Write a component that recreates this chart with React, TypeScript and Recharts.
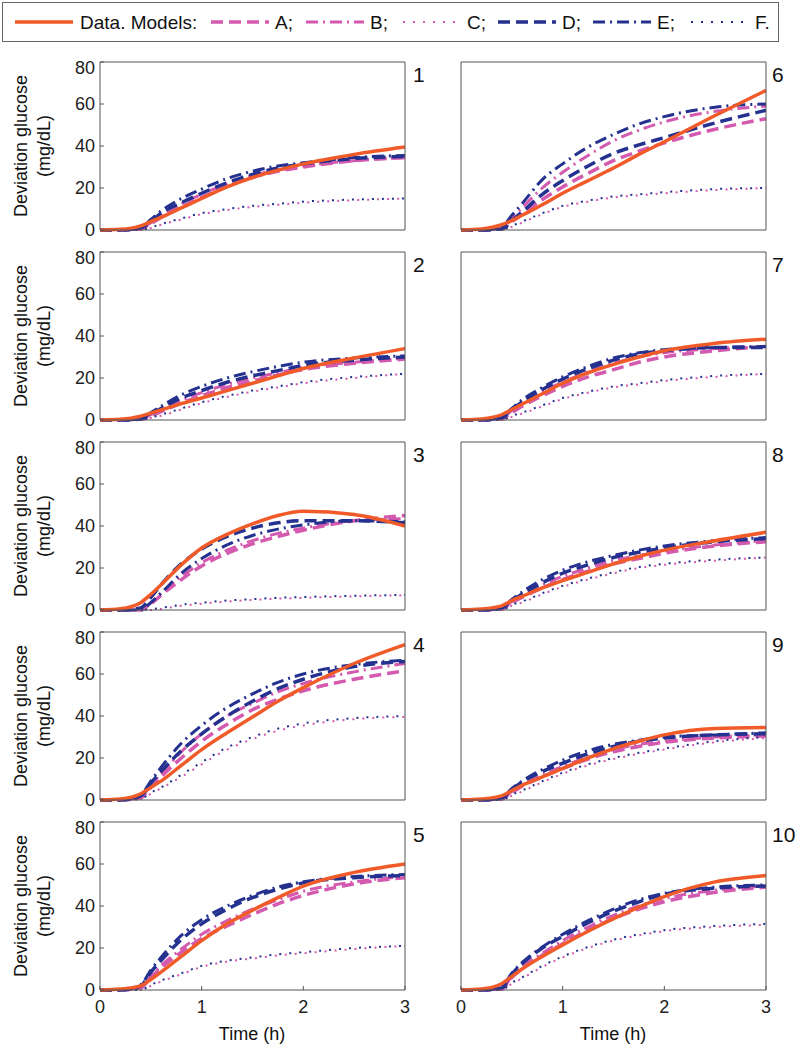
import { LineChart, Line, XAxis, YAxis } from 'recharts';

// time grid (h) shared by every panel
const TIME = [0, 0.2, 0.4, 0.5, 0.6, 0.8, 1, 1.25, 1.5, 1.75, 2, 2.5, 3];
const X_TICKS = [0, 1, 2, 3];
const Y_TICKS = [0, 20, 40, 60, 80];
const PANEL_NAMES = ['1', '2', '3', '4', '5', '6', '7', '8', '9', '10'];

// one row per panel (1..10), values in mg/dL
const DATA = [
  [0, 0.3, 2, 4, 6, 10.5, 15, 20.5, 25, 28.5, 31.5, 36, 39.5],
  [0, 0.3, 1.8, 3.3, 4.8, 7.8, 10.5, 14, 17.5, 21, 24.5, 29.5, 34],
  [0, 0.6, 3.5, 7.5, 12, 21.5, 29.5, 36, 41, 45, 47, 45.5, 40],
  [0, 0.5, 3, 6, 9, 16.5, 24, 32, 39.5, 47, 53.5, 65, 74],
  [0, 0.5, 2, 5, 8.5, 16, 23.5, 31.5, 38, 44, 49.5, 56, 60],
  [0, 0.5, 2.5, 4.5, 7, 12, 17.5, 23.5, 29.5, 36, 42, 54.5, 66.5],
  [0, 0.5, 2.5, 5, 7.5, 12.5, 17.5, 22.5, 26.5, 30, 33, 36.5, 38.5],
  [0, 0.5, 2, 4.5, 6.5, 10.5, 14, 18, 22, 25.5, 28.5, 33, 37],
  [0, 0.5, 2, 4.5, 7, 11, 15, 20, 24.5, 28, 31, 34, 34.5],
  [0, 0.5, 3, 6.5, 10, 16, 21.5, 28, 34, 39.5, 44.5, 51.5, 54.5],
];

const MODEL_A = [
  [0, 0, 0.5, 3, 6, 11, 15.5, 21, 25, 28, 30, 33, 34.5],
  [0, 0, 0.3, 2, 4, 8, 11.5, 15.5, 18.5, 21.5, 24, 27, 29],
  [0, 0, 0, 3, 7, 14.5, 21, 27, 31.5, 35, 38, 42.5, 45],
  [0, 0, 1, 6, 11, 20, 28, 36, 43, 48, 52, 57.5, 61.5],
  [0, 0, 1, 6, 10.5, 18, 24.5, 30.5, 36, 41, 45, 50.5, 53.5],
  [0, 0, 0.5, 4, 7.5, 14.5, 20.5, 27, 33, 37.5, 41.5, 48, 53],
  [0, 0, 0.5, 3.5, 6.5, 11.5, 16, 20.5, 24, 27.5, 30, 33, 35],
  [0, 0, 0.5, 3.5, 6, 10.5, 14.5, 18.5, 22, 24.5, 27, 30.5, 32.5],
  [0, 0, 0.5, 3.5, 6.5, 11, 15, 19.5, 23, 25.5, 27.5, 29.5, 30.5],
  [0, 0, 0.5, 6, 10, 16.5, 22, 28.5, 34, 38.5, 42, 46.5, 49],
];

const MODEL_B = [
  [0, 0, 0.5, 3.5, 7, 12.5, 17, 22, 26, 28.5, 30.5, 33, 34.5],
  [0, 0, 0.4, 2.5, 5, 9.5, 13, 17, 20, 22.5, 25, 27.5, 29.5],
  [0, 0, 0, 3.5, 8, 16, 22.5, 28.5, 33, 36.5, 39, 42.5, 43.5],
  [0, 0, 1.5, 7, 12.5, 23, 31.5, 40, 46, 51.5, 55.5, 61, 65],
  [0, 0, 1, 6.5, 11.5, 19.5, 26.5, 33, 38.5, 43, 47, 51.5, 54],
  [0, 0, 1, 5.5, 10.5, 20, 27.5, 35.5, 42.5, 47.5, 51.5, 56.5, 59],
  [0, 0, 1, 4.5, 8, 13.5, 18, 23, 27, 30, 32, 34, 35],
  [0, 0, 0.5, 4, 7, 12, 16, 20, 23.5, 26, 28, 31, 33],
  [0, 0, 0.5, 4, 7, 12, 16, 20.5, 24, 26.5, 28, 30, 31],
  [0, 0, 0.5, 6.5, 11, 17.5, 23.5, 30, 35.5, 40, 43.5, 47.5, 49.5],
];

const MODEL_C = [
  [0, 0, 0, 1, 2.5, 5, 7.5, 9.5, 11, 12, 13, 14.2, 15],
  [0, 0, 0, 1, 2, 5, 8, 11, 13.5, 15.5, 17.5, 20, 22],
  [0, 0, 0, 0, 0.5, 2, 3, 4, 4.8, 5.4, 5.8, 6.5, 7],
  [0, 0, 0.5, 3, 5.5, 11, 17, 24, 29, 33, 35.5, 38.5, 39.5],
  [0, 0, 0, 2, 4, 7.5, 11, 13.5, 15, 16.5, 17.5, 19.5, 21],
  [0, 0, 0, 1.5, 3.5, 7.5, 11, 13.5, 15.5, 16.5, 17.5, 19, 20],
  [0, 0, 0, 1.5, 3, 6.5, 10, 13, 15.5, 17, 18.5, 20.5, 22],
  [0, 0, 0, 2, 3.5, 7.5, 11, 14.5, 17.5, 20, 21.5, 23.5, 25],
  [0, 0, 0, 2, 4, 8.5, 12.5, 16.5, 19.5, 22, 24, 27.5, 29.5],
  [0, 0, 0, 3, 5.5, 11, 15.5, 20, 23.5, 26, 28, 30, 31],
];

const MODEL_D = [
  [0, 0, 1, 4, 8, 13, 17.5, 22.5, 26.5, 29.5, 31.5, 34, 35],
  [0, 0, 0.5, 3, 5.5, 10.5, 14, 18, 21, 23.5, 26, 28.5, 30],
  [0, 0, 1, 6, 12, 22, 29, 35, 39, 41.5, 42.5, 42.5, 41.5],
  [0, 0, 2, 8, 13.5, 23.5, 31.5, 40, 47, 53, 57.5, 63.5, 66],
  [0, 0, 2, 8.5, 14, 24, 31.5, 38.5, 44, 48, 51, 53.5, 54.5],
  [0, 0, 0.5, 4.5, 8.5, 17, 23.5, 30.5, 36.5, 40.5, 44, 51, 57],
  [0, 0, 1, 5, 8.5, 14.5, 19.5, 24.5, 28.5, 31.5, 33, 34.5, 34.5],
  [0, 0, 1, 4.5, 7.5, 13, 17.5, 21.5, 25, 27.5, 29.5, 32.5, 34],
  [0, 0, 1, 5, 8.5, 13.5, 17.5, 22, 25.5, 28, 29.5, 31, 31.5],
  [0, 0, 1, 7.5, 12.5, 20, 25.5, 32, 37.5, 42, 45.5, 48.5, 49.5],
];

const MODEL_E = [
  [0, 0, 1, 5, 9, 15, 19.5, 24.5, 28, 30.5, 32, 34.5, 35.5],
  [0, 0, 0.5, 3.5, 6.5, 12, 16, 20, 23, 25.5, 27.5, 29.5, 30.5],
  [0, 0, 0, 3.5, 8, 17.5, 24.5, 31, 35.5, 38.5, 40.5, 42.5, 42],
  [0, 0, 2.5, 9, 15.5, 27, 35.5, 44, 50.5, 56, 60, 64.5, 66.5],
  [0, 0, 2.5, 9.5, 15.5, 26, 33.5, 40, 45, 49, 51.5, 54, 55],
  [0, 0, 1.5, 7, 12.5, 24, 31.5, 39.5, 45.5, 50.5, 54, 58.5, 60],
  [0, 0, 1.5, 5.5, 9.5, 15.5, 20.5, 25.5, 29.5, 32, 33.5, 34.5, 35],
  [0, 0, 1, 5, 8.5, 14.5, 19, 23, 26, 28.5, 30.5, 33, 34.5],
  [0, 0, 1, 5.5, 9, 14.5, 19, 23.5, 26.5, 28.5, 30, 31, 32],
  [0, 0, 1.5, 8, 13, 20.5, 26.5, 33, 38.5, 43, 46, 49, 50],
];

const MODEL_F = [
  [0, 0, 0, 1.2, 2.8, 5.5, 8, 10, 11.5, 12.5, 13.5, 14.5, 15],
  [0, 0, 0, 1.2, 2.5, 5.5, 8.5, 11.5, 14, 16, 18, 20.5, 22],
  [0, 0, 0, 0.3, 1, 2.5, 3.5, 4.5, 5.2, 5.8, 6.2, 6.8, 7.2],
  [0, 0, 0.5, 3.5, 6, 12, 18, 25, 30, 34, 36.5, 39, 40],
  [0, 0, 0, 2.5, 4.5, 8, 11.5, 14, 15.5, 17, 18, 20, 21],
  [0, 0, 0, 2, 4, 8, 11.5, 14, 16, 17, 18, 19.5, 20],
  [0, 0, 0, 2, 3.5, 7, 10.5, 13.5, 16, 17.5, 19, 21, 22],
  [0, 0, 0, 2.5, 4, 8, 11.5, 15, 18, 20.5, 22, 24, 25],
  [0, 0, 0, 2.5, 4.5, 9, 13, 17, 20, 22.5, 24.5, 28, 30],
  [0, 0, 0, 3.5, 6, 11.5, 16, 20.5, 24, 26.5, 28.5, 30.5, 31.5],
];

const ORANGE = '#f15a29';
const PINK = '#d35aae';
const BLUE = '#24318f';
const AXIS = '#555';
const FONT = '"Liberation Sans", Arial, Helvetica, sans-serif';

const MODELS = [
  { key: 'a', label: 'A;', color: PINK, width: 3.5, dash: '12 6', offset: 0 },
  { key: 'b', label: 'B;', color: PINK, width: 3, dash: '12 5 2 5', offset: 0 },
  { key: 'c', label: 'C;', color: PINK, width: 2, dash: '2 8', offset: 0 },
  { key: 'd', label: 'D;', color: BLUE, width: 3.5, dash: '12 6', offset: 0 },
  { key: 'e', label: 'E;', color: BLUE, width: 3, dash: '12 5 2 5', offset: 0 },
  { key: 'f', label: 'F.', color: BLUE, width: 2, dash: '2 8', offset: 5 },
];

const SOURCES = [MODEL_A, MODEL_B, MODEL_C, MODEL_D, MODEL_E, MODEL_F];

function buildRows(p: number) {
  return TIME.map((t, i) => {
    const row: Record<string, number> = { t, data: DATA[p][i] };
    MODELS.forEach((m, k) => {
      row[m.key] = SOURCES[k][p][i];
    });
    return row;
  });
}

const PLOT_W = 305;
const PLOT_H = 168;
const Y_W = 45;
const X_H = 34;

function Panel({ index }: { index: number }) {
  const col = index < 5 ? 0 : 1;
  const row = index % 5;
  const plotLeft = col === 0 ? 100 : 461;
  const plotTop = 62 + row * 190;
  const bottom = row === 4;
  const tickStyle = { fill: '#222', fontSize: 18, fontFamily: FONT };

  return (
    <div style={{ position: 'absolute', left: plotLeft - Y_W, top: plotTop - 5 }}>
      <LineChart
        width={Y_W + PLOT_W + 5}
        height={PLOT_H + 5 + X_H}
        data={buildRows(index)}
        margin={{ top: 4, right: 4, bottom: 0, left: 0 }}
      >
        <XAxis
          xAxisId="b"
          dataKey="t"
          type="number"
          domain={[0, 3]}
          ticks={X_TICKS}
          height={X_H}
          tickSize={-4}
          tickMargin={14}
          tick={bottom ? tickStyle : false}
          stroke={AXIS}
        />
        <XAxis
          xAxisId="t"
          dataKey="t"
          orientation="top"
          type="number"
          domain={[0, 3]}
          ticks={X_TICKS}
          height={1}
          tickSize={-4}
          tick={false}
          stroke={AXIS}
        />
        <YAxis
          yAxisId="l"
          type="number"
          domain={[0, 80]}
          ticks={Y_TICKS}
          width={Y_W}
          tickSize={-4}
          tickMargin={9}
          tick={col === 0 ? tickStyle : false}
          stroke={AXIS}
        />
        <YAxis
          yAxisId="r"
          orientation="right"
          type="number"
          domain={[0, 80]}
          ticks={Y_TICKS}
          width={1}
          tickSize={-4}
          tick={false}
          stroke={AXIS}
        />
        {/* invisible copy so the top and right frame axes get a domain */}
        <Line
          xAxisId="t"
          yAxisId="r"
          dataKey="data"
          stroke="none"
          dot={false}
          activeDot={false}
          isAnimationActive={false}
        />
        {MODELS.map((m) => (
          <Line
            key={m.key}
            xAxisId="b"
            yAxisId="l"
            type="monotone"
            dataKey={m.key}
            stroke={m.color}
            strokeWidth={m.width}
            strokeDasharray={m.dash}
            strokeDashoffset={m.offset}
            dot={false}
            isAnimationActive={false}
          />
        ))}
        <Line
          xAxisId="b"
          yAxisId="l"
          type="monotone"
          dataKey="data"
          stroke={ORANGE}
          strokeWidth={3.5}
          dot={false}
          isAnimationActive={false}
        />
      </LineChart>
      <div
        style={{
          position: 'absolute',
          left: Y_W + PLOT_W + (col === 0 ? 8 : 6),
          top: 6,
          fontSize: 21,
          lineHeight: '24px',
          fontFamily: FONT,
          color: '#111',
        }}
      >
        {PANEL_NAMES[index]}
      </div>
    </div>
  );
}

function LegendSample({ color, width, dash }: { color: string; width: number; dash?: string }) {
  return (
    <svg width={58} height={10} style={{ display: 'block' }}>
      <line x1={0} y1={5} x2={58} y2={5} stroke={color} strokeWidth={width} strokeDasharray={dash} />
    </svg>
  );
}

const LEGEND_X = [210, 305, 402, 497, 592, 690];

function Legend() {
  const text = { position: 'absolute' as const, top: 0, lineHeight: '39px', fontSize: 19, color: '#111' };
  return (
    <div
      style={{
        position: 'absolute',
        left: 2,
        top: 2,
        width: 775,
        height: 38,
        border: '1px solid #666',
        fontFamily: FONT,
      }}
    >
      <div style={{ position: 'absolute', left: 12, top: 14 }}>
        <LegendSample color={ORANGE} width={3.5} />
      </div>
      <span style={{ ...text, left: 77 }}>Data. Models:</span>
      {MODELS.map((m, k) => (
        <div key={m.key}>
          <div style={{ position: 'absolute', left: LEGEND_X[k] - 2, top: 14 }}>
            <LegendSample color={m.color} width={m.width} dash={m.dash} />
          </div>
          <span style={{ ...text, left: LEGEND_X[k] + 62 }}>{m.label}</span>
        </div>
      ))}
    </div>
  );
}

export default function App() {
  return (
    <div style={{ position: 'absolute', left: 0, top: 0, width: 802, height: 1050, background: '#fff', fontFamily: FONT }}>
      <Legend />
      {PANEL_NAMES.map((_, i) => (
        <Panel key={i} index={i} />
      ))}
      {[0, 1, 2, 3, 4].map((r) => (
        <div
          key={r}
          style={{
            position: 'absolute',
            left: 34 - 90,
            top: 62 + r * 190 + 84 - 24,
            width: 180,
            height: 48,
            transform: 'rotate(-90deg)',
            textAlign: 'center',
            fontSize: 18,
            lineHeight: '23px',
            color: '#111',
            whiteSpace: 'nowrap',
          }}
        >
          Deviation glucose
          <br />
          (mg/dL)
        </div>
      ))}
      {[252, 613].map((cx) => (
        <div
          key={cx}
          style={{
            position: 'absolute',
            left: cx - 60,
            top: 1023,
            width: 120,
            textAlign: 'center',
            fontSize: 18,
            lineHeight: '22px',
            color: '#111',
          }}
        >
          Time (h)
        </div>
      ))}
    </div>
  );
}
